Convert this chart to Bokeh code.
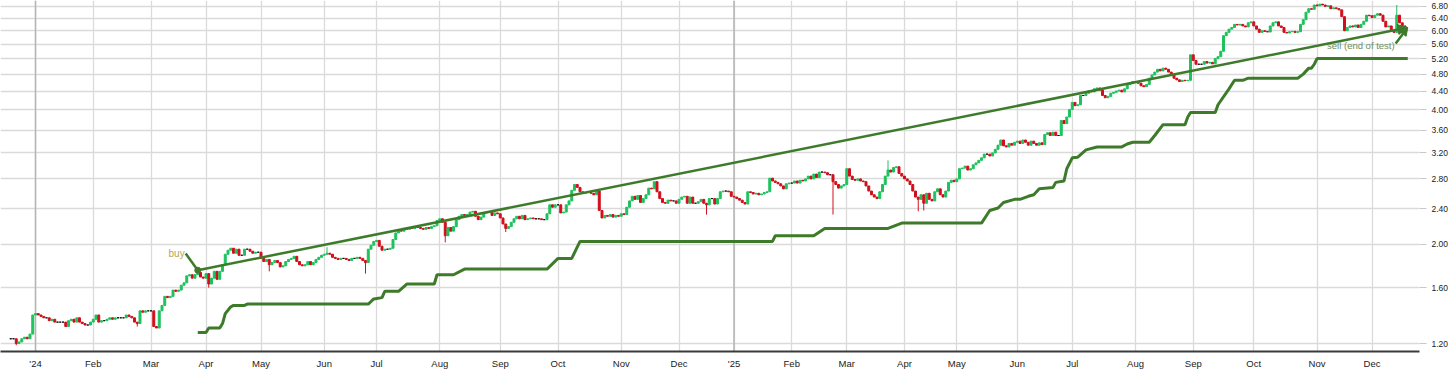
import pandas as pd
from bokeh.plotting import figure
from bokeh.models import FixedTicker, PrintfTickFormatter, Span, Label, Arrow, NormalHead, ColumnDataSource
from bokeh.embed import file_html
from bokeh.resources import INLINE

# ---------------- data ----------------
HOLIDAYS = ["2023-12-25", "2023-12-26", "2024-01-01", "2024-01-26", "2024-03-29", "2024-04-01",
            "2024-04-25", "2024-06-10", "2024-12-25", "2024-12-26", "2025-01-01", "2025-01-27",
            "2025-04-18", "2025-04-21", "2025-04-25", "2025-06-09", "2025-12-25", "2025-12-26"]

close_2023_12 = [1.23, 1.23, 1.20, 1.21, 1.23, 1.24, 1.23, 1.26, 1.39]
close_2024_01 = [1.40, 1.39, 1.38, 1.37, 1.37, 1.35, 1.36, 1.34, 1.34, 1.34, 1.34, 1.31, 1.35, 1.36, 1.34,
                 1.37, 1.34, 1.33, 1.32, 1.32, 1.34]
close_2024_02 = [1.36, 1.39, 1.34, 1.35, 1.35, 1.36, 1.37, 1.36, 1.37, 1.37, 1.37, 1.37, 1.39, 1.38, 1.37,
                 1.34, 1.33, 1.42, 1.41, 1.42, 1.42]
close_2024_03 = [1.42, 1.31, 1.30, 1.42, 1.46, 1.53, 1.52, 1.53, 1.58, 1.57, 1.58, 1.62, 1.64, 1.70, 1.71,
                 1.68, 1.71, 1.73, 1.69, 1.68]
close_2024_04 = [1.72, 1.63, 1.68, 1.74, 1.67, 1.74, 1.80, 1.90, 1.94, 1.96, 1.91, 1.95, 1.89, 1.89, 1.95,
                 1.95, 1.93, 1.91, 1.92, 1.92]
close_2024_05 = [1.86, 1.83, 1.85, 1.80, 1.82, 1.84, 1.82, 1.78, 1.79, 1.83, 1.85, 1.86, 1.88, 1.83, 1.80,
                 1.79, 1.80, 1.83, 1.80, 1.82, 1.85, 1.87, 1.89]
close_2024_06 = [1.90, 1.91, 1.90, 1.87, 1.86, 1.85, 1.86, 1.86, 1.85, 1.84, 1.86, 1.86, 1.87, 1.86, 1.84,
                 1.82, 1.95, 1.99, 2.03]
close_2024_07 = [2.04, 1.98, 1.94, 1.95, 1.95, 1.96, 2.05, 2.12, 2.15, 2.14, 2.17, 2.16, 2.18, 2.17, 2.19,
                 2.18, 2.17, 2.16, 2.18, 2.17, 2.19, 2.20, 2.26]
close_2024_08 = [2.28, 2.24, 2.09, 2.18, 2.14, 2.19, 2.27, 2.31, 2.33, 2.32, 2.33, 2.36, 2.37, 2.31, 2.27,
                 2.30, 2.35, 2.36, 2.36, 2.32, 2.35, 2.34]
close_2024_09 = [2.29, 2.22, 2.17, 2.19, 2.24, 2.28, 2.31, 2.28, 2.32, 2.27, 2.28, 2.29, 2.28, 2.28, 2.28,
                 2.27, 2.27, 2.34, 2.45, 2.42, 2.45]
close_2024_10 = [2.45, 2.35, 2.36, 2.45, 2.50, 2.64, 2.72, 2.68, 2.62, 2.60, 2.61, 2.61, 2.60, 2.58, 2.63,
                 2.38, 2.29, 2.32, 2.31, 2.33, 2.30, 2.32, 2.31]
close_2024_11 = [2.34, 2.33, 2.42, 2.50, 2.56, 2.52, 2.57, 2.48, 2.53, 2.58, 2.67, 2.66, 2.76, 2.62, 2.53,
                 2.48, 2.47, 2.51, 2.50, 2.50, 2.47]
close_2024_12 = [2.52, 2.55, 2.56, 2.47, 2.55, 2.47, 2.47, 2.49, 2.52, 2.47, 2.45, 2.53, 2.53, 2.46, 2.53,
                 2.62, 2.63, 2.63, 2.62, 2.56]
close_2025_01 = [2.55, 2.53, 2.51, 2.48, 2.46, 2.62, 2.61, 2.59, 2.60, 2.58, 2.59, 2.61, 2.62, 2.81, 2.77,
                 2.75, 2.73, 2.70, 2.66, 2.73, 2.74]
close_2025_02 = [2.74, 2.77, 2.74, 2.78, 2.77, 2.80, 2.84, 2.80, 2.87, 2.82, 2.90, 2.90, 2.89, 2.86, 2.86,
                 2.76, 2.72, 2.67, 2.70, 2.72]
close_2025_03 = [2.95, 2.84, 2.79, 2.78, 2.80, 2.77, 2.76, 2.70, 2.63, 2.58, 2.55, 2.53, 2.62, 2.72, 2.84,
                 2.93, 2.90, 2.97, 2.98, 2.88, 2.84]
close_2025_04 = [2.80, 2.77, 2.72, 2.63, 2.55, 2.52, 2.58, 2.47, 2.60, 2.52, 2.50, 2.62, 2.66, 2.58, 2.55,
                 2.63, 2.75, 2.78, 2.76]
close_2025_05 = [2.80, 2.95, 2.96, 2.99, 2.93, 2.95, 3.01, 3.04, 3.08, 3.12, 3.18, 3.18, 3.15, 3.20, 3.26,
                 3.33, 3.42, 3.32, 3.30, 3.36, 3.33, 3.38]
close_2025_06 = [3.40, 3.36, 3.42, 3.38, 3.33, 3.40, 3.36, 3.33, 3.37, 3.34, 3.52, 3.55, 3.50, 3.56, 3.50,
                 3.50, 3.78, 3.72, 3.85, 4.00]
close_2025_07 = [4.15, 4.08, 4.10, 4.30, 4.30, 4.35, 4.40, 4.38, 4.45, 4.47, 4.42, 4.30, 4.25, 4.28, 4.35,
                 4.37, 4.40, 4.42, 4.38, 4.45, 4.55, 4.57, 4.62]
close_2025_08 = [4.60, 4.58, 4.52, 4.50, 4.55, 4.70, 4.78, 4.85, 4.92, 4.88, 4.95, 4.92, 4.85, 4.80, 4.70,
                 4.66, 4.62, 4.65, 4.64, 4.65, 5.30]
close_2025_09 = [5.15, 5.05, 5.05, 5.05, 5.12, 5.08, 5.10, 5.06, 5.20, 5.25, 5.40, 5.85, 5.95, 6.05, 6.10,
                 6.20, 6.18, 6.20, 6.15, 6.12, 6.25, 6.28]
close_2025_10 = [6.15, 6.05, 5.95, 6.00, 5.98, 5.96, 6.15, 6.25, 6.28, 6.15, 6.10, 5.95, 5.93, 5.97, 5.98,
                 5.95, 5.97, 6.20, 6.35, 6.60, 6.72, 6.70, 6.85]
close_2025_11 = [6.82, 6.88, 6.85, 6.80, 6.82, 6.72, 6.75, 6.72, 6.68, 6.45, 6.00, 6.10, 6.15, 6.12, 6.18,
                 6.10, 6.20, 6.30, 6.50, 6.48]
close_2025_12 = [6.42, 6.50, 6.55, 6.50, 6.30, 6.12, 6.15, 6.00, 5.95, 6.50, 6.25, 6.15, 6.10]

wick_dates = ["2023-12-19", "2024-02-23", "2024-04-03", "2024-05-06", "2024-06-04", "2024-06-25",
              "2024-08-05", "2024-09-04", "2024-12-16", "2025-02-24", "2025-03-24", "2025-04-08",
              "2025-04-10", "2025-12-12"]
wick_values = [1.19, 1.31, 1.60, 1.74, 1.97, 1.72, 2.02, 2.13, 2.33, 2.33, 3.08, 2.37, 2.38, 6.85]

stop_dates = ["2024-03-26", "2024-04-02", "2024-04-03", "2024-04-09", "2024-04-10", "2024-04-11",
              "2024-04-15", "2024-04-16", "2024-04-22", "2024-04-23", "2024-06-26", "2024-06-27",
              "2024-06-28", "2024-07-03", "2024-07-04", "2024-07-11", "2024-07-16", "2024-07-30",
              "2024-07-31", "2024-08-08", "2024-08-14", "2024-09-25", "2024-10-01", "2024-10-08",
              "2024-10-11", "2025-01-22", "2025-01-23", "2025-02-13", "2025-02-19", "2025-03-24",
              "2025-03-31", "2025-05-14", "2025-05-19", "2025-05-22", "2025-05-26", "2025-05-30",
              "2025-06-03", "2025-06-06", "2025-06-11", "2025-06-13", "2025-06-20", "2025-06-23",
              "2025-06-26", "2025-06-27", "2025-07-01", "2025-07-03", "2025-07-08", "2025-07-14",
              "2025-07-25", "2025-07-29", "2025-07-31", "2025-08-08", "2025-08-12", "2025-08-15",
              "2025-08-27", "2025-08-28", "2025-08-29", "2025-09-11", "2025-09-12", "2025-09-18",
              "2025-09-22", "2025-09-25", "2025-09-29", "2025-10-23", "2025-10-27", "2025-10-29",
              "2025-10-30", "2025-10-31", "2025-11-03", "2025-12-18"]
stop_values = [1.27, 1.27, 1.30, 1.30, 1.33, 1.40, 1.45, 1.46, 1.46, 1.47, 1.47, 1.49, 1.51, 1.52, 1.57,
               1.57, 1.63, 1.63, 1.71, 1.71, 1.76, 1.76, 1.86, 1.86, 2.03, 2.03, 2.09, 2.09, 2.17, 2.17,
               2.23, 2.23, 2.38, 2.41, 2.48, 2.52, 2.52, 2.56, 2.58, 2.66, 2.68, 2.75, 2.77, 2.95, 3.12,
               3.13, 3.25, 3.30, 3.30, 3.35, 3.38, 3.38, 3.50, 3.70, 3.70, 3.85, 3.94, 3.94, 4.10, 4.45,
               4.65, 4.65, 4.70, 4.70, 4.80, 4.95, 4.95, 5.05, 5.20, 5.20]

buy_date, buy_price = "2024-03-26", 1.75
sell_date, sell_price = "2025-12-18", 6.10
buy_text = "buy"
sell_text = "sell (end of test)"

month_names = ["'24", "Feb", "Mar", "Apr", "May", "Jun", "Jul", "Aug", "Sep", "Oct", "Nov", "Dec",
               "'25", "Feb", "Mar", "Apr", "May", "Jun", "Jul", "Aug", "Sep", "Oct", "Nov", "Dec"]
y_ticks = [1.20, 1.60, 2.00, 2.40, 2.80, 3.20, 3.60, 4.00, 4.40, 4.80, 5.20, 5.60, 6.00, 6.40, 6.80]

# ---------------- build ----------------
months = [("2023-12", close_2023_12), ("2024-01", close_2024_01), ("2024-02", close_2024_02),
          ("2024-03", close_2024_03), ("2024-04", close_2024_04), ("2024-05", close_2024_05),
          ("2024-06", close_2024_06), ("2024-07", close_2024_07), ("2024-08", close_2024_08),
          ("2024-09", close_2024_09), ("2024-10", close_2024_10), ("2024-11", close_2024_11),
          ("2024-12", close_2024_12), ("2025-01", close_2025_01), ("2025-02", close_2025_02),
          ("2025-03", close_2025_03), ("2025-04", close_2025_04), ("2025-05", close_2025_05),
          ("2025-06", close_2025_06), ("2025-07", close_2025_07), ("2025-08", close_2025_08),
          ("2025-09", close_2025_09), ("2025-10", close_2025_10), ("2025-11", close_2025_11),
          ("2025-12", close_2025_12)]

cal = pd.bdate_range("2023-12-15", "2025-12-31", freq="C", holidays=HOLIDAYS)
ym = cal.strftime("%Y-%m")
pos = {d.strftime("%Y-%m-%d"): i for i, d in enumerate(cal)}


def ix(ds):
    return pos[ds]


xs, closes, dstr = [], [], []
for key, vals in months:
    days = cal[ym == key]
    n = min(len(days), len(vals))
    for d, v in zip(days[:n], vals[:n]):
        s = d.strftime("%Y-%m-%d")
        xs.append(pos[s]); closes.append(v); dstr.append(s)

opens = [closes[0]] + closes[:-1]
highs = [max(o, c) for o, c in zip(opens, closes)]
lows = [min(o, c) for o, c in zip(opens, closes)]
for wd, wv in zip(wick_dates, wick_values):
    if wd in dstr:
        k = dstr.index(wd)
        lows[k] = min(lows[k], wv)
        highs[k] = max(highs[k], wv)

UP, DOWN, FLAT = "#1fc25e", "#d0101c", "#111111"
colors = [UP if c > o else (DOWN if c < o else FLAT) for o, c in zip(opens, closes)]
src = ColumnDataSource(dict(x=xs, high=highs, low=lows,
                            top=[max(o, c) for o, c in zip(opens, closes)],
                            bottom=[min(o, c) for o, c in zip(opens, closes)], color=colors))

tick_keys = [k for k, _ in months][1:]
tick_idx = [int(pd.Index(range(len(cal)))[ym == k][0]) for k in tick_keys]
overrides = {t: lab for t, lab in zip(tick_idx, month_names)}

GREEN = "#3d7b2b"
FONT = "Liberation Sans"

p = figure(width=1456, height=374, x_range=(-3.73, 512.27), y_range=(1.152, 7.01),
           y_axis_type="log", y_axis_location="right", output_backend="svg",
           toolbar_location=None, min_border_left=0, min_border_top=0,
           min_border_bottom=23, min_border_right=37)
p.outline_line_color = None
p.background_fill_color = "white"

# grids
p.xgrid.ticker = FixedTicker(ticks=tick_idx)
p.ygrid.ticker = FixedTicker(ticks=y_ticks)
for g in (p.xgrid, p.ygrid):
    g.grid_line_color = "#dadada"
    g.grid_line_width = 1.3
for k in ("2024-01", "2025-01"):
    loc = tick_idx[tick_keys.index(k)]
    p.add_layout(Span(location=loc, dimension="height", line_color="#b4b4b4",
                      line_width=1.5, level="underlay"))

# axes
xa = p.xaxis[0]
xa.ticker = FixedTicker(ticks=tick_idx)
xa.major_label_overrides = overrides
xa.major_tick_out = 0
xa.major_tick_in = 0
xa.minor_tick_line_color = None
xa.axis_line_color = "#3a3a3a"
xa.axis_line_width = 2
xa.major_label_standoff = 6
xa.major_label_text_font = FONT
xa.major_label_text_font_size = "9.5px"
xa.major_label_text_color = "#222222"

ya = p.yaxis[0]
ya.ticker = FixedTicker(ticks=y_ticks)
ya.formatter = PrintfTickFormatter(format="%.2f")
ya.axis_line_color = None
ya.major_tick_out = 7
ya.major_tick_in = 0
ya.major_tick_line_color = "#c8c8c8"
ya.minor_tick_line_color = None
ya.major_label_standoff = 5
ya.major_label_text_font = FONT
ya.major_label_text_font_size = "8.5px"
ya.major_label_text_color = "#222222"

# candles
p.segment(x0="x", y0="low", x1="x", y1="high", color="color", line_width=1, source=src)
p.vbar(x="x", width=0.72, top="top", bottom="bottom", fill_color="color", line_color="color",
       line_width=1, source=src)

# trailing stop
p.line([ix(d) for d in stop_dates], stop_values, line_color=GREEN, line_width=3)

# buy -> sell
bx, sx = ix(buy_date), ix(sell_date)
p.add_layout(Arrow(end=NormalHead(size=10, fill_color=GREEN, line_color=GREEN),
                   x_start=bx, y_start=buy_price, x_end=sx, y_end=sell_price,
                   line_color=GREEN, line_width=2.5))
DX = 4.4  # annotation leader length, in trading days
p.line([bx - DX, bx], [buy_price * 1.09, buy_price], line_color=GREEN, line_width=2.5)
p.scatter([bx], [buy_price], size=6, color=GREEN)
p.add_layout(Label(x=bx - DX, y=buy_price * 1.09, text=buy_text, text_align="right",
                   text_baseline="middle", x_offset=-1, text_font=FONT,
                   text_font_size="10px", text_color="#b3a657"))
p.add_layout(Arrow(end=NormalHead(size=8, fill_color=GREEN, line_color=GREEN),
                   x_start=sx - DX, y_start=sell_price * 0.921, x_end=sx, y_end=sell_price,
                   line_color=GREEN, line_width=2.5))
p.add_layout(Label(x=sx - DX, y=sell_price * 0.921, text=sell_text, text_align="right",
                   text_baseline="middle", x_offset=-1, y_offset=-2, text_font=FONT,
                   text_font_size="9.5px", text_color="#6d8f60"))

open("out.html", "w").write(file_html(p, INLINE))
